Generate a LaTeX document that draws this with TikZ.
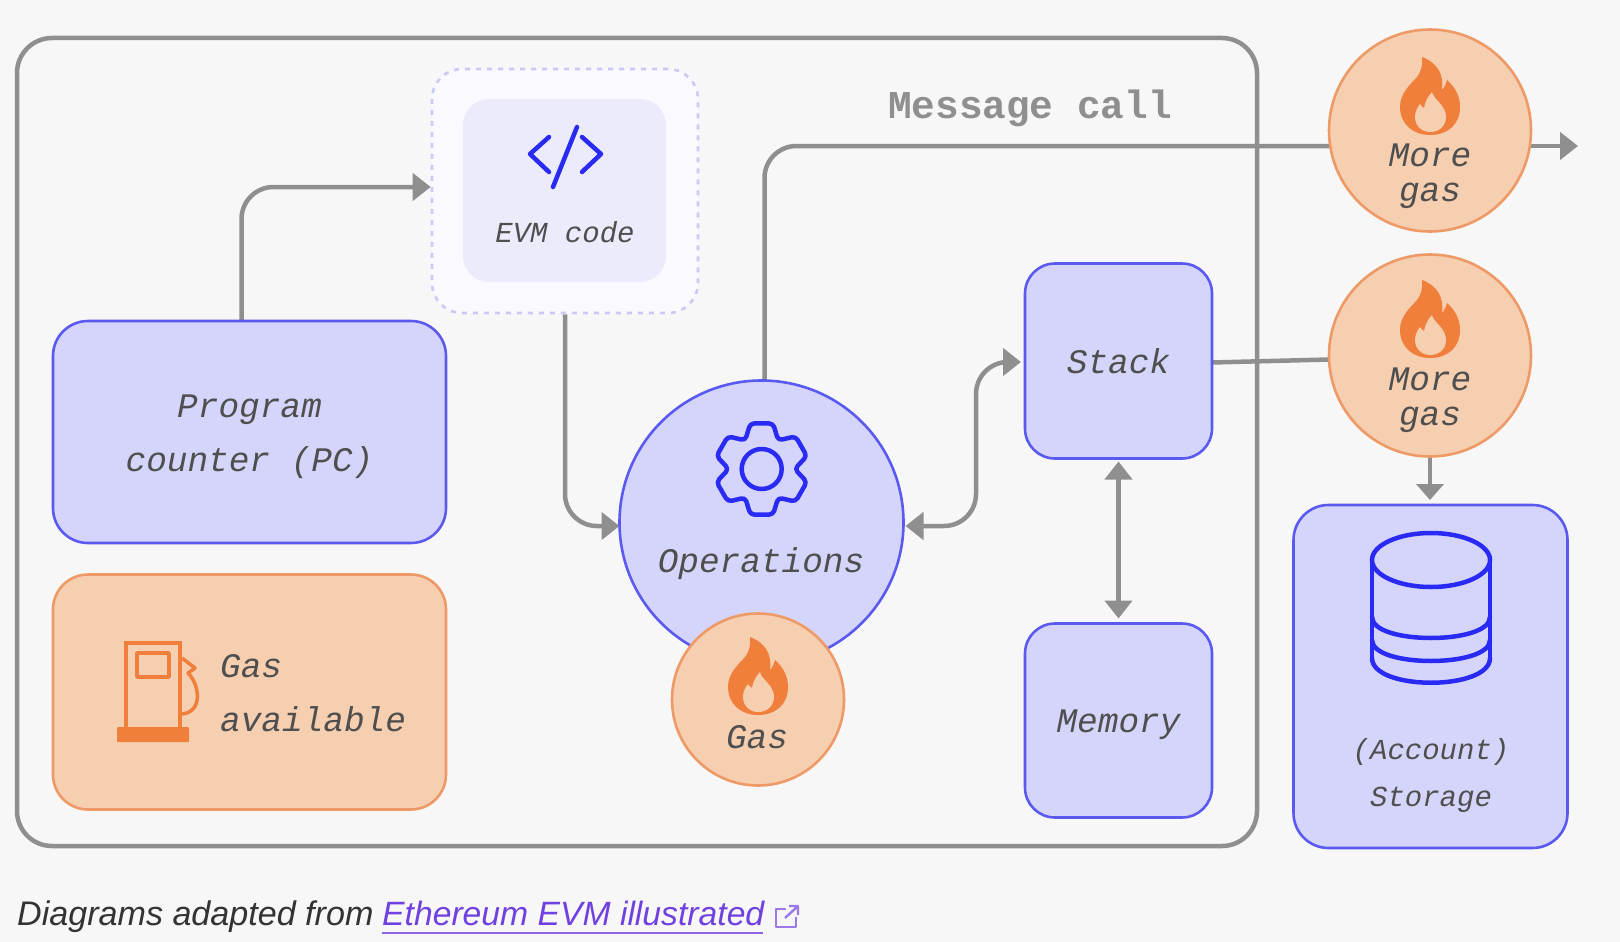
\documentclass[tikz,border=0pt]{standalone}
\usepackage{fontspec}
\setmainfont{Liberation Sans}
\newfontfamily\monof{Liberation Mono}
\usetikzlibrary{arrows.meta,calc}
\definecolor{bgc}{HTML}{F7F7F7}
\definecolor{bluefill}{HTML}{D5D5FB}
\definecolor{blueline}{HTML}{5A5AF0}
\definecolor{blueicon}{HTML}{2A2AF5}
\definecolor{orfill}{HTML}{F6CEB0}
\definecolor{orline}{HTML}{EE9A66}
\definecolor{oricon}{HTML}{F07F3C}
\definecolor{grayline}{HTML}{8F8F8F}
\definecolor{txt}{HTML}{4F4F4F}
\definecolor{linkc}{HTML}{7040E0}
\definecolor{dashc}{HTML}{CACAF5}
\definecolor{evmout}{HTML}{F9F9FF}
\definecolor{evmin}{HTML}{EBEBFB}
\pgfdeclarelayer{paper}
\pgfdeclarelayer{conn}
\pgfsetlayers{paper,conn,main}
\tikzset{
  bluebox/.style={rectangle,rounded corners=#1,draw=blueline,fill=bluefill,line width=2.6,inner sep=0,outer sep=0},
  orbox/.style={rectangle,rounded corners=#1,draw=orline,fill=orfill,line width=2.6,inner sep=0,outer sep=0},
  bluecirc/.style={circle,draw=blueline,fill=bluefill,line width=2.6,inner sep=0,outer sep=0},
  orcirc/.style={circle,draw=orline,fill=orfill,line width=2.6,inner sep=0,outer sep=0},
  lab/.style={inner sep=0,text=txt,font=\monof\itshape\fontsize{34.4}{34}\selectfont},
  smalllab/.style={inner sep=0,text=txt,font=\monof\itshape\fontsize{29}{29}\selectfont},
  conn/.style={draw=grayline,line width=4.5,-,rounded corners=#1},
  conn/.default=32,
  icon/.style={draw=blueicon,line width=4.5,line cap=round,line join=round},
  flame/.pic={
    \fill[oricon] (-8,-78) .. controls (8,-72) and (14,-60) .. (12,-45)
      .. controls (15,-48) and (16,-52) .. (17,-55)
      .. controls (26,-47) and (30,-38) .. (30,-28)
      .. controls (30,-10) and (17,0) .. (0,0)
      .. controls (-17,0) and (-30,-11) .. (-30,-28)
      .. controls (-30,-42) and (-20,-50) .. (-13,-58)
      .. controls (-9,-63) and (-7,-70) .. (-8,-78) -- cycle;
    \fill[orfill] (2,-43) .. controls (3,-36) and (16,-30) .. (16,-18)
      .. controls (16,-9) and (9,-3) .. (0,-3)
      .. controls (-9,-3) and (-15,-10) .. (-15,-18)
      .. controls (-15,-23) and (-13,-27) .. (-10,-31)
      .. controls (-9,-29) and (-8,-28) .. (-6,-27)
      .. controls (-5,-33) and (-2,-39) .. (2,-43) -- cycle;
  },
}
\begin{document}
\begin{tikzpicture}[x=1pt,y=-1pt]
\begin{pgfonlayer}{paper}
\fill[bgc] (0,0) rectangle (1620,942);
\end{pgfonlayer}
\useasboundingbox (0,0) rectangle (1620,942);

% shapes
\node[bluebox=35,minimum width=393,minimum height=222] (pc) at (249.5,432) {};
\node[orbox=35,minimum width=393,minimum height=235] (gasbox) at (249.5,692) {};
\node[rectangle,rounded corners=30,draw=dashc,fill=evmout,line width=2.6,dash pattern=on 5 off 6,minimum width=266,minimum height=244,inner sep=0] (evmo) at (565,191) {};
\node[rectangle,rounded corners=26,fill=evmin,minimum width=203,minimum height=183,inner sep=0] (evmi) at (564.5,190.5) {};
\node[bluecirc,minimum size=284] (ops) at (761.5,522.5) {};
\node[orcirc,minimum size=172] (gas) at (758,699.5) {};
\node[bluebox=30,minimum width=187,minimum height=195,lab] (stack) at (1118.5,361) {Stack};
\node[bluebox=30,minimum width=187,minimum height=194] (memory) at (1118.5,720.5) {};
\node[bluebox=35,minimum width=274,minimum height=343] (storage) at (1430.5,676.5) {};
\node[orcirc,minimum size=202] (more1) at (1430,130.5) {};
\node[orcirc,minimum size=202] (more2) at (1430,355.5) {};
\coordinate (outtip) at (1578,146);
\coordinate (turn) at (976,0);
\coordinate (ulend) at (763,933);

% frame and connectors lie beneath the shapes (yshift is measured upwards)
\begin{pgfonlayer}{conn}
\node[rectangle,rounded corners=35,draw=grayline,line width=4.5,minimum width=1240,minimum height=808,inner sep=0] (frame) at (637,442) {};
\draw[conn,-{Triangle[length=18,width=27,fill=grayline]}] ([xshift=-8]pc.north) |- ([yshift=4]evmo.west);
\draw[conn,-{Triangle[length=18,width=27,fill=grayline]}] (evmo.south) |- ([yshift=-3.5]ops.west);
\draw[conn] ([xshift=3]ops.north) |- ([yshift=-15.5]more1.west);
\draw[conn=0,-{Triangle[length=18,width=27,fill=grayline]}] ([yshift=-15.5]more1.east) -- (outtip);
\draw[conn,{Triangle[length=18,width=27,fill=grayline]}-{Triangle[length=18,width=27,fill=grayline]}]
  ([xshift=2,yshift=-3.5]ops.east) -- ([yshift=-3.5]ops.east -| turn) -- ([yshift=-1]stack.west -| turn) -- ([xshift=-4,yshift=-1]stack.west);
\draw[conn=0,{Triangle[length=18,width=27,fill=grayline]}-{Triangle[length=18,width=27,fill=grayline]}] ([yshift=-3]stack.south) -- ([yshift=5]memory.north);
\draw[conn=0] ([yshift=-1.5]stack.east) -- ([yshift=-4]more2.west);
\draw[conn=0,-{Triangle[length=16,width=27,fill=grayline]}] (more2.south) -- ([yshift=5]storage.north -| more2.south);
\end{pgfonlayer}

% labels
\node[inner sep=0,text=grayline,font=\monof\bfseries\fontsize{39.4}{39}\selectfont] (msg) at (1030,108) {Message call};
\node[lab,anchor=base] (pc1) at (249.5,417) {Program};
\node[lab,anchor=base] (pc2) at (249.5,471) {counter (PC)};
\node[lab] (memt) at (1118.5,725) {Memory};
\node[smalllab] (evmt) at (565,232) {EVM code};
\node[lab] (opst) at (761,564) {Operations};
\node[lab] (gast) at (757,737) {Gas};
\node[lab,anchor=base] (m1a) at (1430,166) {More};
\node[lab,anchor=base] (m1b) at (1430,201) {gas};
\node[lab,anchor=base] (m2a) at (1430,390) {More};
\node[lab,anchor=base] (m2b) at (1430,425) {gas};
\node[lab,anchor=base west] (ga1) at (220,677) {Gas};
\node[lab,anchor=base west] (ga2) at (220,731) {available};
\node[smalllab,anchor=base] (st1) at (1431,759) {(Account)};
\node[smalllab,anchor=base] (st2) at (1431,806) {Storage};

% caption
\node[inner sep=0,anchor=base west,text=black!80,font=\itshape\fontsize{34.1}{34}\selectfont] (cap) at (17,925) {Diagrams adapted from};
\node[inner sep=0,anchor=base west,text=linkc,font=\itshape\fontsize{33.7}{34}\selectfont] (link) at (382,925) {Ethereum EVM illustrated};
\draw[linkc!80!white,line width=2.4] (link.base west |- ulend) -- (ulend);
\draw[linkc!70!white,line width=2.4,line join=round] (786,909) -- (776,909) -- (776,927) -- (796,927) -- (796,917);
\draw[linkc!70!white,line width=2.4,line join=round] (785,918) -- (797,907) (789,906) -- (798,906) -- (798,915);

% code icon
\draw[icon] (549,137) -- (530,154) -- (549,172);
\draw[icon] (582,137) -- (601,154) -- (582,172);
\draw[icon] (577,127) -- (553,187);

% gear icon
\begin{scope}[shift={(761.7,469)}]
\draw[icon,rounded corners=4] (76:47) -- (104:47) -- (120:33) -- (136:47) -- (164:47) -- (180:33) -- (196:47) -- (224:47) -- (240:33) -- (256:47) -- (284:47) -- (300:33) -- (316:47) -- (344:47) -- (0:33) -- (16:47) -- (44:47) -- (60:33) -- cycle;
\draw[icon] (0,0) circle [radius=20];
\end{scope}

% flames
\pic at (1430,135) {flame};
\pic at (1430,358) {flame};
\pic at (758,715) {flame};

% pump icon
\draw[oricon,line width=4.5,line join=miter] (126,730) -- (126,643) -- (180,643) -- (180,730);
\draw[oricon,line width=3.5,line join=round] (137,653) rectangle (169,677);
\fill[oricon,rounded corners=1] (117,727) rectangle (189,742);
\draw[oricon,line width=3.5,line join=round] (182,658) -- (195,668) -- (188,673) .. controls (200,685) and (203,712) .. (182,714);

% database icon
\draw[icon] (1431,560) ellipse [x radius=59,y radius=27];
\draw[icon] (1372,560) -- (1372,658) (1490,560) -- (1490,658);
\draw[icon] (1372,617) .. controls (1372,645) and (1490,645) .. (1490,617);
\draw[icon] (1372,640) .. controls (1372,668) and (1490,668) .. (1490,640);
\draw[icon] (1372,658) .. controls (1372,691) and (1490,691) .. (1490,658);
\end{tikzpicture}
\end{document}
